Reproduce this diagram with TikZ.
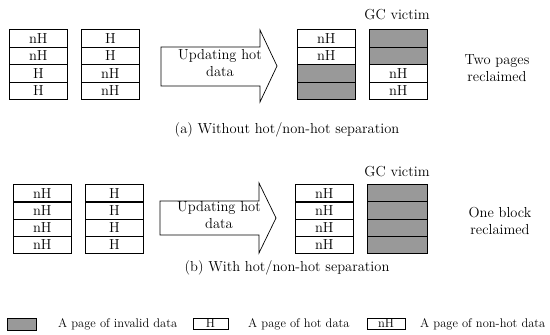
\documentclass[tikz,border=0pt]{standalone}
\usetikzlibrary{positioning}
\definecolor{invgray}{RGB}{153,153,153}
\begin{document}
\begin{tikzpicture}[x=1pt,y=-1pt,
  mainfont/.style={font=\fontsize{14.5}{17.5}\selectfont},
  legfont/.style={font=\fontsize{12.5}{15}\selectfont},
  cell/.style={draw=black, line width=0.7pt, minimum width=58pt, minimum height=17.5pt,
     inner sep=0pt, anchor=north west, mainfont},
  inv/.style={cell, fill=invgray},
  bigarrow/.style={draw=black, line width=0.7pt, fill=white},
  lbl/.style={mainfont, align=center, inner sep=0pt},
  legbox/.style={draw=black, line width=0.7pt, minimum width=35pt, minimum height=11pt,
     inner sep=0pt, legfont},
  legtext/.style={legfont, anchor=west, inner sep=0pt}]
\useasboundingbox (0,0) rectangle (550,335);

% ---------- (a) ----------
\foreach \t/\s [count=\i] in {nH/cell,nH/cell,H/cell,H/cell}
  \node[\s] (ta-\i) at (9,{29+(\i-1)*17.5}) {\t};
\foreach \t/\s [count=\i] in {H/cell,H/cell,nH/cell,nH/cell}
  \node[\s] (tb-\i) at (81,{29+(\i-1)*17.5}) {\t};
\draw[bigarrow] (161,47) -- (260,47) -- (260,30) -- (277,66) -- (260,102)
   -- (260,86) -- (161,86) -- cycle;
\node[lbl] (tupd) at (220,63) {Updating hot\\data};
\foreach \t/\s [count=\i] in {nH/cell,nH/cell,{}/inv,{}/inv}
  \node[\s] (tc-\i) at (297,{29+(\i-1)*17.5}) {\t};
\foreach \t/\s [count=\i] in {{}/inv,{}/inv,nH/cell,nH/cell}
  \node[\s] (td-\i) at (369,{29+(\i-1)*17.5}) {\t};
\node[lbl] (tgc) at (397,15) {GC victim};
\node[lbl] (tres) at (497,68) {Two pages\\reclaimed};
\node[lbl] (capa) at (287,130) {(a) Without hot/non-hot separation};

% ---------- (b) ----------
\foreach \t/\s [count=\i] in {nH/cell,nH/cell,nH/cell,nH/cell}
  \node[\s] (ba-\i) at (13,{184+(\i-1)*17.25}) {\t};
\foreach \t/\s [count=\i] in {H/cell,H/cell,H/cell,H/cell}
  \node[\s] (bb-\i) at (85,{184+(\i-1)*17.25}) {\t};
\draw[bigarrow] (160,201) -- (259,201) -- (259,183) -- (276,218) -- (259,253)
   -- (259,235) -- (160,235) -- cycle;
\node[lbl] (bupd) at (219,215) {Updating hot\\data};
\foreach \t/\s [count=\i] in {nH/cell,nH/cell,nH/cell,nH/cell}
  \node[\s] (bc-\i) at (295,{184+(\i-1)*17.25}) {\t};
\foreach \t/\s [count=\i] in {{}/inv,{}/inv,{}/inv,{}/inv}
  \node[\s, minimum width=60pt] (bd-\i) at (367,{184+(\i-1)*17.25}) {\t};
\node[lbl] (bgc) at (397,172) {GC victim};
\node[lbl] (bres) at (500,221) {One block\\reclaimed};
\node[lbl] (capb) at (287,268) {(b) With hot/non-hot separation};

% ---------- legend ----------
\node[legbox, fill=invgray, minimum width=29pt, minimum height=12pt] (lg1) at (21.5,324) {};
\node[legtext] (lt1) at (58,324) {A page of invalid data};
\node[legbox] (lg2) at (210.5,323.5) {H};
\node[legtext] (lt2) at (248,324) {A page of hot data};
\node[legbox, minimum width=38pt] (lg3) at (386,323.5) {nH};
\node[legtext] (lt3) at (420,324) {A page of non-hot data};
\end{tikzpicture}
\end{document}
